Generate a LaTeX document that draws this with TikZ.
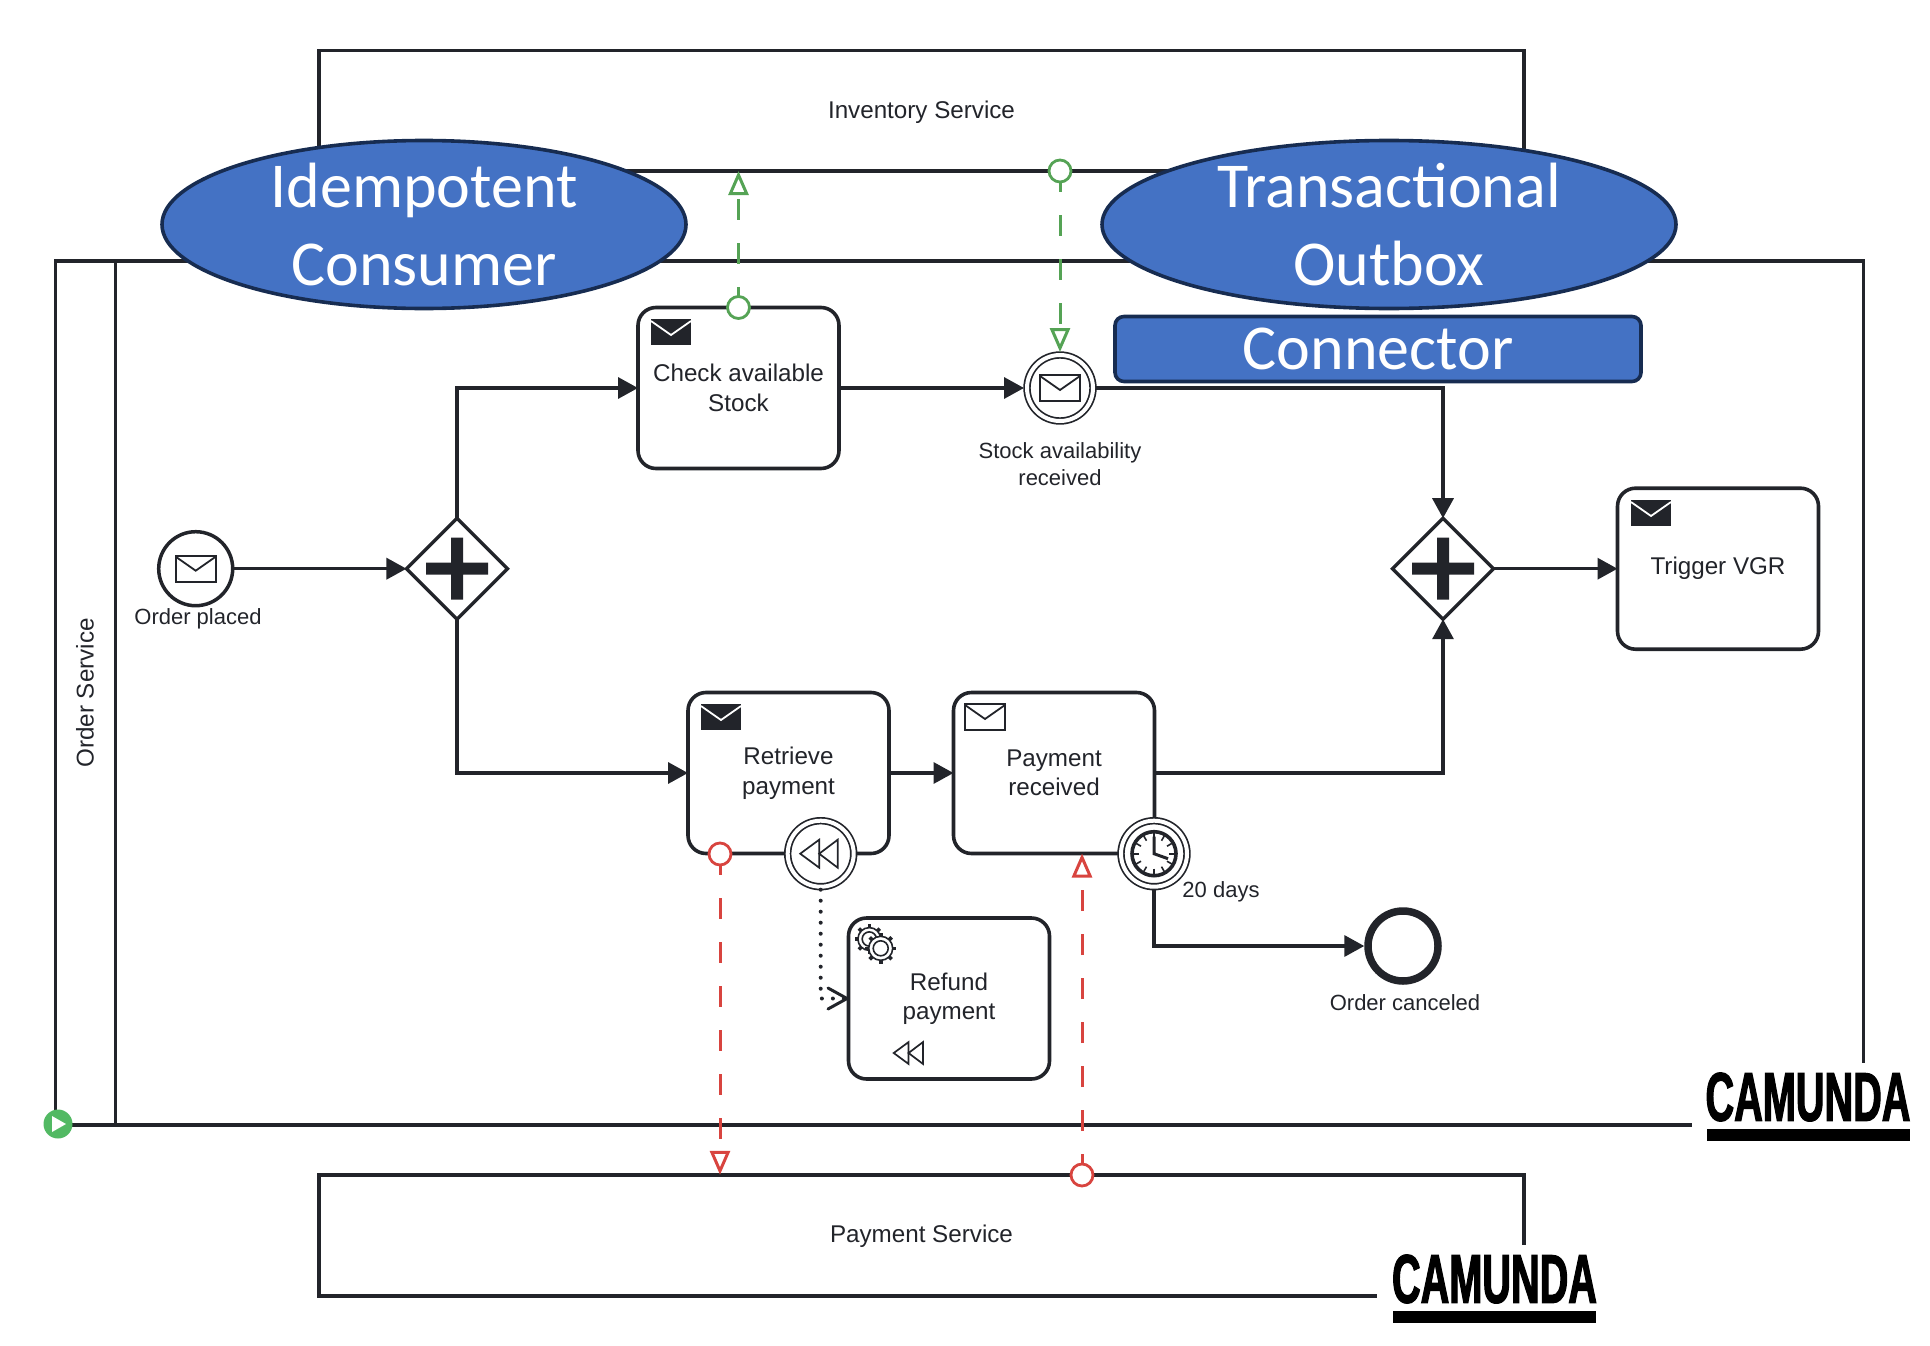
\documentclass[tikz,border=0pt]{standalone}
\usepackage{fontspec}
\usepackage{xcolor}
\usepackage{tikz}
\usetikzlibrary{arrows.meta,shapes.geometric}
\setmainfont{Liberation Sans}
\newfontfamily\calloutfont{Carlito}
\newfontfamily\camundafont[FakeStretch=0.575,FakeBold=1.6]{Liberation Sans Bold}
\definecolor{ink}{HTML}{22242A}
\definecolor{calloutblue}{HTML}{4472C4}
\definecolor{calloutedge}{HTML}{172C51}
\definecolor{flowgreen}{HTML}{55A355}
\definecolor{flowred}{HTML}{D8443F}
\definecolor{runbadge}{HTML}{52B963}
\tikzset{every node/.append style={text=ink,font=\fontsize{24.2}{29.5}\selectfont}}
\tikzstyle{pool} = [rectangle, draw=ink, line width=3.4pt, inner sep=0pt, outer sep=0pt, text height=20pt]
\tikzstyle{task} = [rectangle, rounded corners=18pt, draw=ink, fill=white, line width=3.6pt, align=center, minimum width=201pt, minimum height=161pt, outer sep=0pt, inner sep=0pt]
\tikzstyle{gateway} = [diamond, aspect=1, draw=ink, fill=white, line width=3.4pt, minimum size=101pt, inner sep=0pt, outer sep=0pt]
\tikzstyle{event} = [circle, draw=ink, fill=white, line width=3.5pt, minimum size=74pt, inner sep=0pt, outer sep=0pt]
\tikzstyle{catch} = [circle, draw=ink, fill=white, line width=1.7pt, double=white, double distance=4pt, minimum size=66pt, inner sep=0pt, outer sep=3pt]
\tikzstyle{endevent} = [circle, draw=ink, fill=white, line width=7.5pt, minimum size=70pt, inner sep=0pt, outer sep=3.7pt]
\tikzstyle{invis} = [draw=none, align=center, inner sep=0pt]
\tikzstyle{small} = [draw=none, align=center, inner sep=0pt, font=\fontsize{22}{27}\selectfont]
\tikzstyle{flow} = [->, draw=ink, line width=3.4pt]
\tikzstyle{comp} = [draw=ink, line width=4pt, line cap=round, dash pattern=on 0pt off 11pt, -{Straight Barb[length=19pt,width=21pt,line width=3pt,line cap=butt,round=false]}]
\tikzstyle{msgflow} = [line width=3pt, -{Triangle[open,length=24pt,width=20pt,fill=white]}, dash pattern=on 21pt off 23pt, dash phase=11pt]
\tikzstyle{msgdot} = [circle, fill=white, line width=2.8pt, minimum size=22pt, inner sep=0pt, outer sep=0pt]
\tikzstyle{callout} = [draw=calloutedge, fill=calloutblue, line width=3.6pt, align=center, inner sep=-30pt, text=white, font=\calloutfont\fontsize{64}{77.5}\selectfont]
\tikzset{
  mailfull/.pic={
    \fill[ink] (-20,-13) rectangle (20,13);
    \draw[white,line width=1.8pt] (-20,-11) -- (0,3) -- (20,-11);
  },
  mailopen/.pic={
    \draw[ink,fill=white,line width=1.8pt] (-20,-13) rectangle (20,13);
    \draw[ink,line width=1.8pt] (-20,-12) -- (0,2) -- (20,-12);
  },
  rewindmark/.pic={
    \draw[ink,line width=1.7pt,line join=miter] (-20.5,0) -- (-1.5,-14) -- (-1.5,14) -- cycle;
    \draw[ink,line width=1.7pt,line join=miter] (-1.5,0) -- (17,-14) -- (17,14) -- cycle;
  },
  plusmark/.pic={
    \fill[ink] (-31,-6) rectangle (31,6) (-6,-31) rectangle (6,31);
  },
  gearmark/.pic={
    \foreach \a in {0,45,...,315}
      \draw[ink,line width=3.6pt] (\a:11) -- (\a:15.5);
    \draw[ink,fill=white,line width=1.6pt] (0,0) circle (12);
    \draw[ink,line width=1.6pt] (0,0) circle (7.5);
  },
  clockmark/.pic={
    \draw[ink,line width=3.6pt] (0,0) circle (22);
    \foreach \a in {0,30,...,330}
      \draw[ink,line width=1.6pt] (\a:15) -- (\a:20.5);
    \draw[ink,line width=3pt] (0,-17) -- (0,0) -- (14,5);
  }
}

\begin{document}
\begin{tikzpicture}[x=1pt,y=-1pt,>={Triangle[length=20pt,width=21pt]},node distance=100pt]
  \useasboundingbox (0,0) rectangle (1930,1346);

  % pools
  \node[pool, minimum width=1205pt, minimum height=120.5pt] (Pool_Inventory) at (921.5,110.8) {Inventory Service};
  \node[pool, minimum width=1808pt, minimum height=864pt] (Pool_Order) at (959.5,693) {};
  \node[pool, minimum width=1205pt, minimum height=121pt] (Pool_Payment) at (921.5,1235.3) {Payment Service};
  \coordinate (Lane_Top) at (115.7,261);
  \coordinate (Lane_Bottom) at (115.7,1125);
  \draw[draw=ink, line width=3.4pt] (Lane_Top) -- (Lane_Bottom);
  \node[invis, rotate=90] (Lab_Order) at (85,693) {Order Service};

  % flow objects
  \node[event] (Evt_Start) at (195.7,568.7) {};
  \node[gateway] (GW_Split) at (457,568.7) {};
  \node[gateway] (GW_Join) at (1443,568.7) {};
  \node[task] (Task_Check) at (738.5,388) {Check available\\Stock};
  \node[catch] (Evt_Stock) at (1060,388) {};
  \node[task] (Task_Trigger) at (1718,568.7) {Trigger VGR};
  \node[task] (Task_Retrieve) at (788.5,773) {Retrieve\\payment};
  \node[task, right of=Task_Retrieve, node distance=265.5pt] (Task_Received) {Payment\\received};
  \node[task] (Task_Refund) at (949,998.5) {Refund\\payment};
  \node[catch] (Evt_Comp) at (820.7,853.7) {};
  \node[catch] (Evt_Timer) at (1154,853.7) {};
  \node[endevent] (Evt_End) at (1403,946) {};

  % icons
  \pic at (Evt_Start) {mailopen};
  \pic at (Evt_Stock) {mailopen};
  \pic at (671,332) {mailfull};
  \pic at (721,717) {mailfull};
  \pic at (985,717) {mailopen};
  \pic at (1651,513) {mailfull};
  \pic at (GW_Split) {plusmark};
  \pic at (GW_Join) {plusmark};
  \pic at (Evt_Comp) {rewindmark};
  \pic[scale=0.78] at (909.7,1053) {rewindmark};
  \pic at (Evt_Timer) {clockmark};
  \pic[scale=0.95] at (869.3,939) {gearmark};
  \pic at (880.7,948.3) {gearmark};

  % labels
  \node[small] (Lab_Start) at (198,619) {Order placed};
  \node[small] (Lab_Stock) at (1060,464) {Stock availability\\received};
  \node[small] (Lab_Timer) at (1221,892) {20 days};
  \node[small] (Lab_End) at (1405,1003) {Order canceled};

  % sequence flows
  \path (Evt_Start) edge[flow] (GW_Split);
  \draw[flow] (GW_Split) |- (Task_Check);
  \draw[flow] (GW_Split) |- (Task_Retrieve);
  \path (Task_Check) edge[flow] (Evt_Stock);
  \draw[flow] (Evt_Stock) -| (GW_Join);
  \path (Task_Retrieve) edge[flow] (Task_Received);
  \draw[flow] (Task_Received) -| (GW_Join);
  \path (GW_Join) edge[flow] (Task_Trigger);
  \draw[flow] (Evt_Timer) |- (Evt_End);
  \draw[comp] (Evt_Comp) |- (Task_Refund);

  % message flows
  \node[msgdot, draw=flowgreen] (Msg_Check) at (Task_Check.north) {};
  \node[msgdot, draw=flowgreen] (Msg_Inventory) at (1060,171) {};
  \node[msgdot, draw=flowred] (Msg_Retrieve) at (720,854) {};
  \node[msgdot, draw=flowred] (Msg_Payment) at (1082,1175) {};
  \coordinate (In_Inventory) at (Msg_Check |- Pool_Inventory.south);
  \coordinate (In_Payment) at (Msg_Retrieve |- Pool_Payment.north);
  \coordinate (In_Received) at (Msg_Payment |- Task_Received.south);
  \draw[msgflow, draw=flowgreen] (Msg_Check) -- (In_Inventory);
  \draw[msgflow, draw=flowgreen] (Msg_Inventory) -- (Evt_Stock);
  \draw[msgflow, draw=flowred] (Msg_Retrieve) -- (In_Payment);
  \draw[msgflow, draw=flowred] (Msg_Payment) -- (In_Received);

  % run badge
  \node[circle, fill=runbadge, minimum size=29pt, inner sep=0pt] (Run_Badge) at (58,1124) {};
  \fill[white] (52,1116) -- (66,1124) -- (52,1132) -- cycle;

  % callouts
  \node[callout, ellipse, minimum width=524pt, minimum height=168pt] (Note_Idem) at (424,224.5) {Idempotent\\Consumer};
  \node[callout, ellipse, minimum width=574pt, minimum height=168pt] (Note_Outbox) at (1389,224.5) {Transactional\\Outbox};
  \node[callout, rectangle, rounded corners=9pt, minimum width=526pt, minimum height=65pt] (Note_Connector) at (1378,349) {Connector};

  % logos
  \foreach \nm/\cx/\cy/\px in {Logo_A/1808/1097/1811, Logo_B/1494.5/1279/1496} {
    \node[fill=white, minimum width=238pt, minimum height=104pt, inner sep=0pt] (\nm_Patch) at (\px,\cy+18) {};
    \node[inner sep=0pt, text=black, font=\camundafont\fontsize{69}{69}\selectfont] (\nm) at (\cx,\cy) {CAMUNDA};
    \fill[black] (\cx-101.5,\cy+32) rectangle (\cx+101.5,\cy+44);
  }
\end{tikzpicture}
\end{document}
